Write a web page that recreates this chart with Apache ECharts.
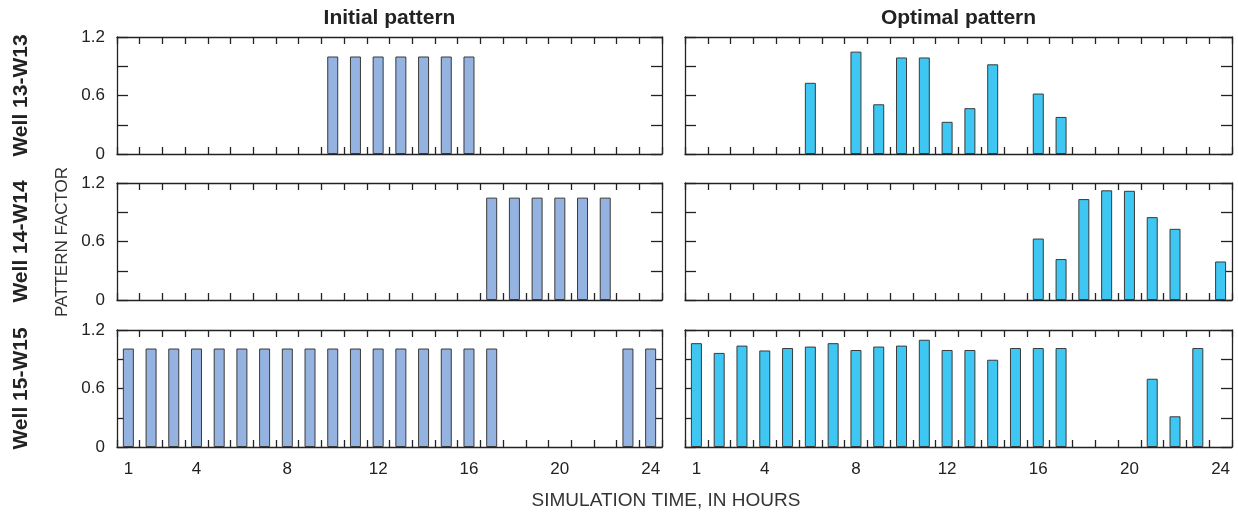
<!DOCTYPE html>
<html>
<head>
<meta charset="utf-8">
<script src="https://cdn.jsdelivr.net/npm/echarts@6/dist/echarts.min.js"></script>
<style>
html,body{margin:0;padding:0;background:#fff;}
#chart{width:1238px;height:514px;}
</style>
</head>
<body>
<div id="chart"></div>
<script>
// ---- Data ----
const hours = ['1','2','3','4','5','6','7','8','9','10','11','12','13','14','15','16','17','18','19','20','21','22','23','24'];
const xTickLabels = ['1','4','8','12','16','20','24'];
const yTickLabels = ['0','0.6','1.2'];
const wellNames = ['Well 13-W13', 'Well 14-W14', 'Well 15-W15'];
const panelTitles = ['Initial pattern', 'Optimal pattern'];

const initialW13 = [null,null,null,null,null,null,null,null,null,1.0,1.0,1.0,1.0,1.0,1.0,1.0,null,null,null,null,null,null,null,null];
const initialW14 = [null,null,null,null,null,null,null,null,null,null,null,null,null,null,null,null,1.05,1.05,1.05,1.05,1.05,1.05,null,null];
const initialW15 = [1.01,1.01,1.01,1.01,1.01,1.01,1.01,1.01,1.01,1.01,1.01,1.01,1.01,1.01,1.01,1.01,1.01,null,null,null,null,null,1.01,1.01];

const optimalW13 = [null,null,null,null,null,0.73,null,1.05,0.51,0.99,0.99,0.33,0.47,0.92,null,0.62,0.38,null,null,null,null,null,null,null];
const optimalW14 = [null,null,null,null,null,null,null,null,null,null,null,null,null,null,null,0.63,0.42,1.035,1.125,1.12,0.85,0.73,null,0.395];
const optimalW15 = [1.065,0.965,1.04,0.99,1.015,1.03,1.065,0.995,1.03,1.04,1.1,0.995,0.995,0.895,1.015,1.015,1.015,null,null,null,0.70,0.315,1.015,null];

const seriesData = [
  [initialW13, optimalW13],
  [initialW14, optimalW14],
  [initialW15, optimalW15]
];
const barColors = ['#95B3E1', '#3FC7F3'];

// ---- Layout ----
const colLeft = [117, 685];
const colWidth = [545, 547];
const rowTop = [37, 183, 330];
const rowHeight = 117;
const axisColor = '#222';
const font = 'Liberation Sans, Arial, sans-serif';

const grids = [], xAxes = [], yAxes = [], series = [];
let gi = 0;
for (let r = 0; r < 3; r++) {
  for (let c = 0; c < 2; c++) {
    grids.push({left: colLeft[c], top: rowTop[r], width: colWidth[c], height: rowHeight, containLabel: false});
    const showX = (r === 2);
    // bottom x axis
    xAxes.push({
      type: 'category', data: hours, gridIndex: gi, position: 'bottom', boundaryGap: true,
      axisLine: {onZero: false, lineStyle: {color: axisColor, width: 1.3}},
      axisTick: {show: true, inside: true, length: 7, interval: 0, lineStyle: {color: axisColor, width: 1.3}},
      axisLabel: {
        show: showX, margin: 14, fontSize: 17, color: '#222', fontFamily: font,
        interval: (idx, val) => xTickLabels.indexOf(val) >= 0
      },
      splitLine: {show: false}
    });
    // top x axis (ticks only)
    xAxes.push({
      type: 'category', data: hours, gridIndex: gi, position: 'top', boundaryGap: true,
      axisLine: {onZero: false, lineStyle: {color: axisColor, width: 1.3}},
      axisTick: {show: true, inside: true, length: 7, interval: 0, lineStyle: {color: axisColor, width: 1.3}},
      axisLabel: {show: false},
      splitLine: {show: false}
    });
    // left y axis
    yAxes.push({
      type: 'value', gridIndex: gi, position: 'left', min: 0, max: 1.2, interval: 0.3,
      axisLine: {show: true, onZero: false, lineStyle: {color: axisColor, width: 1.3}},
      axisTick: {show: true, inside: true, length: 11, lineStyle: {color: axisColor, width: 1.3}},
      axisLabel: {
        show: c === 0, margin: 12, fontSize: 17, color: '#222', fontFamily: font,
        formatter: v => { const s = String(Math.round(v * 10) / 10); return yTickLabels.indexOf(s) >= 0 ? s : ''; }
      },
      splitLine: {show: false}
    });
    // right y axis (ticks only)
    yAxes.push({
      type: 'value', gridIndex: gi, position: 'right', min: 0, max: 1.2, interval: 0.3,
      axisLine: {show: true, onZero: false, lineStyle: {color: axisColor, width: 1.3}},
      axisTick: {show: true, inside: true, length: 11, lineStyle: {color: axisColor, width: 1.3}},
      axisLabel: {show: false},
      splitLine: {show: false}
    });
    series.push({
      type: 'bar', xAxisIndex: gi * 2, yAxisIndex: gi * 2, data: seriesData[r][c],
      barWidth: 11,
      itemStyle: {color: barColors[c], borderColor: '#3a3a3a', borderWidth: 1},
      silent: true, animation: false
    });
    gi++;
  }
}

const graphics = [];
// Panel titles
for (let c = 0; c < 2; c++) {
  graphics.push({
    type: 'text', x: colLeft[c] + colWidth[c] / 2, y: 18,
    style: {text: panelTitles[c], font: 'bold 21px ' + font, fill: '#222', textAlign: 'center', textVerticalAlign: 'middle'}
  });
}
// Well labels (rotated)
for (let r = 0; r < 3; r++) {
  graphics.push({
    type: 'text', x: 21, y: rowTop[r] + rowHeight / 2, rotation: Math.PI / 2,
    style: {text: wellNames[r], font: 'bold 21px ' + font, fill: '#222', textAlign: 'center', textVerticalAlign: 'middle'}
  });
}
// Y axis title
graphics.push({
  type: 'text', x: 62, y: (rowTop[0] + rowTop[2] + rowHeight) / 2, rotation: Math.PI / 2,
  style: {text: 'PATTERN FACTOR', font: '17px ' + font, fill: '#333', textAlign: 'center', textVerticalAlign: 'middle'}
});
// X axis title
graphics.push({
  type: 'text', x: 666, y: 501,
  style: {text: 'SIMULATION TIME, IN HOURS', font: '19px ' + font, fill: '#333', textAlign: 'center', textVerticalAlign: 'middle'}
});

const chart = echarts.init(document.getElementById('chart'), null, {renderer: 'canvas'});
chart.setOption({
  animation: false,
  backgroundColor: '#fff',
  grid: grids,
  xAxis: xAxes,
  yAxis: yAxes,
  series: series,
  graphic: graphics
});
</script>
</body>
</html>
